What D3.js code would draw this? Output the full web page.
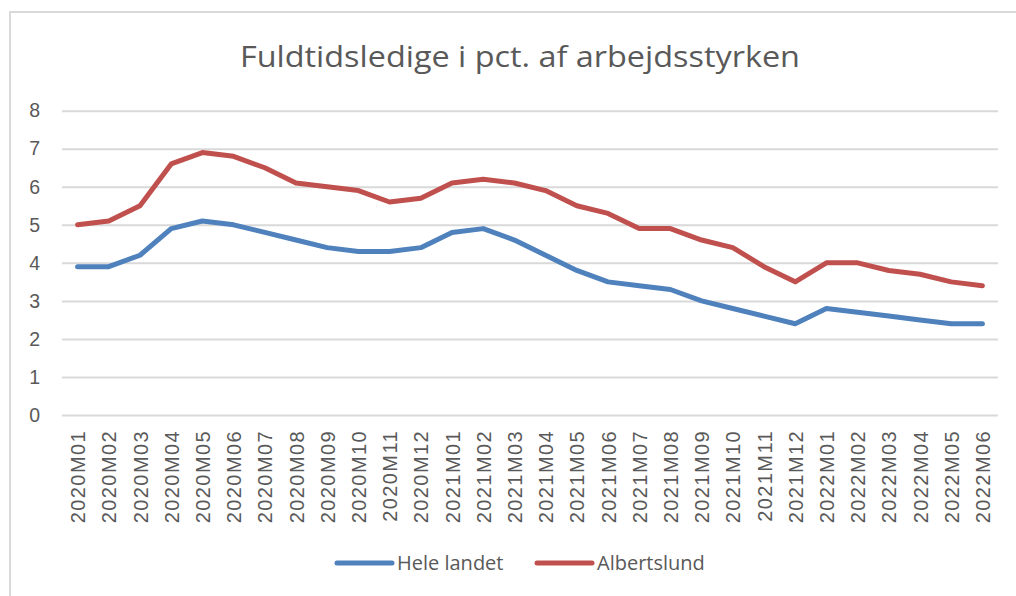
<!DOCTYPE html>
<html>
<head>
<meta charset="utf-8">
<script src="https://cdn.jsdelivr.net/npm/d3@7"></script>
<style>
  body { margin: 0; background: #fff; }
  svg { font-family: "Open Sans", sans-serif; }
</style>
</head>
<body>
<div id="canvas"></div>
<script>
const months = ["2020M01","2020M02","2020M03","2020M04","2020M05","2020M06","2020M07","2020M08","2020M09","2020M10","2020M11","2020M12",
  "2021M01","2021M02","2021M03","2021M04","2021M05","2021M06","2021M07","2021M08","2021M09","2021M10","2021M11","2021M12",
  "2022M01","2022M02","2022M03","2022M04","2022M05","2022M06"];
const heleLandet = [3.9,3.9,4.2,4.9,5.1,5.0,4.8,4.6,4.4,4.3,4.3,4.4,4.8,4.9,4.6,4.2,3.8,3.5,3.4,3.3,3.0,2.8,2.6,2.4,2.8,2.7,2.6,2.5,2.4,2.4];
const albertslund = [5.0,5.1,5.5,6.6,6.9,6.8,6.5,6.1,6.0,5.9,5.6,5.7,6.1,6.2,6.1,5.9,5.5,5.3,4.9,4.9,4.6,4.4,3.9,3.5,4.0,4.0,3.8,3.7,3.5,3.4];
const yTicks = [0,1,2,3,4,5,6,7,8];
const seriesNames = ["Hele landet", "Albertslund"];
const colors = ["#4f81bd", "#c0504d"];

const width = 1016, height = 596;
const svg = d3.select("#canvas").append("svg").attr("width", width).attr("height", height);

// chart frame (only top and left edges are visible in the picture)
svg.append("path")
  .attr("d", "M10,600 L10,12 L1020,12")
  .attr("fill", "none").attr("stroke", "#d9d9d9").attr("stroke-width", 2);

svg.append("text")
  .attr("x", 520).attr("y", 67)
  .attr("text-anchor", "middle")
  .attr("font-size", 30)
  .attr("textLength", 560).attr("lengthAdjust", "spacingAndGlyphs")
  .attr("fill", "#595959")
  .text("Fuldtidsledige i pct. af arbejdsstyrken");

const x = d3.scalePoint().domain(months).range([62, 998]).padding(0.5);
const y = d3.scaleLinear().domain([0, 8]).range([415, 110.7]);

// gridlines
const yAxis = svg.append("g")
  .attr("transform", "translate(62,0)")
  .call(d3.axisLeft(y).tickValues(yTicks).tickSize(-936).tickPadding(22).tickFormat(d3.format("d")));
yAxis.select(".domain").remove();
yAxis.selectAll(".tick line").attr("stroke", "#d9d9d9").attr("stroke-width", 2);
yAxis.selectAll(".tick text").attr("fill", "#595959").attr("font-size", 19.5);

const xAxis = svg.append("g")
  .attr("transform", "translate(0,415)")
  .call(d3.axisBottom(x).tickSize(0));
xAxis.select(".domain").remove();
xAxis.selectAll(".tick text")
  .attr("transform", "rotate(-90)")
  .attr("x", -15).attr("y", 0).attr("dy", "0.35em")
  .attr("text-anchor", "end")
  .attr("fill", "#595959")
  .attr("font-size", 20)
  .attr("letter-spacing", 1.4);

const line = d3.line().x((d, i) => x(months[i])).y(d => y(d));
[heleLandet, albertslund].forEach((vals, k) => {
  svg.append("path")
    .datum(vals)
    .attr("d", line)
    .attr("fill", "none")
    .attr("stroke", colors[k])
    .attr("stroke-width", 5)
    .attr("stroke-linejoin", "round")
    .attr("stroke-linecap", "round");
});

// legend
const legendX = [337, 537];
const legend = svg.append("g");
seriesNames.forEach((name, k) => {
  legend.append("line")
    .attr("x1", legendX[k]).attr("x2", legendX[k] + 55)
    .attr("y1", 563).attr("y2", 563)
    .attr("stroke", colors[k]).attr("stroke-width", 5).attr("stroke-linecap", "round");
  legend.append("text")
    .attr("x", legendX[k] + 60).attr("y", 570)
    .attr("font-size", 20).attr("fill", "#595959")
    .text(name);
});
</script>
</body>
</html>
